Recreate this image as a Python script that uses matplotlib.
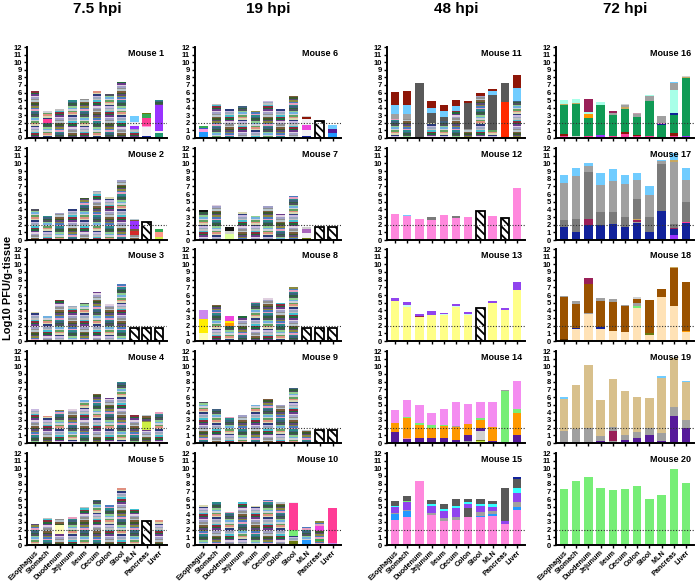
import matplotlib
matplotlib.use("Agg")
import matplotlib.pyplot as plt
import numpy as np

plt.rcParams["font.family"] = ["Liberation Sans", "DejaVu Sans"]
plt.rcParams["hatch.linewidth"] = 1.3

ORGANS = ["Esophagus", "Stomach", "Duodenum", "Jejunum", "Ileum", "Cecum",
          "Colon", "Stool", "MLN", "Pancreas", "Liver"]
TIMEPOINTS = ["7.5 hpi", "19 hpi", "48 hpi", "72 hpi"]
LOD = 2.0

COLORS = {
    "pk": "#ff88dd", "pk2": "#f48cf0", "yl": "#ffff88", "pu": "#9044ee",
    "dp": "#561a9a", "og": "#ff9900", "lg": "#77ee77", "gr": "#a0a0a0",
    "mg": "#7a7a7a", "dg": "#595959", "lgr": "#d0d0d0", "pgr": "#c8a0b0",
    "lb": "#70ccff", "bl": "#2299ff", "bl2": "#4455cc", "cy": "#33ffff",
    "lcy": "#ccffee", "rd": "#8e1608", "red": "#d42a2a", "rr": "#ff2a00",
    "gn": "#109a55", "g2": "#33aa55", "tl": "#1f9a70", "lc": "#a8ffe8",
    "mr": "#9a2058", "nv": "#12229a", "br": "#9a5200", "dbr": "#5a3000",
    "pe": "#ffe2b6", "tn": "#d8c08c", "ta": "#c8a860", "mgn": "#ff3c9a",
    "hp": "#ff3c96", "hp2": "#ee44dd", "pkl": "#ff99dd", "vi": "#9933ff",
    "vi2": "#aa66bb", "lvi": "#cc88ee", "wh": "#f2f0f4", "yg": "#ccee44",
    "lyg": "#ddff99", "lyl": "#ffffbb", "ylw": "#ffee00", "sal": "#ff9988",
    "olv": "#6a7a10", "blk": "#111111",
}

# many small barcode populations -> drawn as a striped texture
STRIPES = ["#9aa8c0", "#3b5a2a", "#d0d0d8", "#6a3a8a", "#2a8a8a", "#c8b8e0",
           "#7a5a3a", "#70b0e0", "#1f6a3a", "#e8a0c0", "#2a3a7a", "#b8c8d0",
           "#90d090", "#8a2a3a", "#4a7ac0", "#d8d8b0", "#909090", "#505060",
           "#40c0d0", "#8a8a40", "#e09080", "#a0a0c8", "#306040", "#c0c0c0",
           "#5a4a7a", "#60a060", "#e0d0e0", "#406080"]
STRIPE_H = 0.2
BAR_W = 0.7

# mice 1-10: total titre per organ (Log10 PFU/g)
stripe_tops = {
    1: [6.25, 3.5, 3.8, 5.0, 5.2, 6.25, 5.75, 7.35, 2.9, 3.3, 4.95],
    2: [4.1, 3.1, 3.5, 4.1, 5.5, 6.4, 5.6, 7.8, 2.75, 2.4, 1.4],
    3: [3.75, 3.2, 5.3, 4.6, 5.0, 6.4, 4.85, 7.4, 1.65, 1.65, 1.65],
    4: [4.45, 3.5, 4.3, 4.5, 5.55, 6.35, 5.85, 8.0, 3.65, 3.65, 4.05],
    5: [2.8, 3.5, 3.4, 3.7, 5.0, 5.85, 5.2, 7.45, 4.7, 3.1, 3.25],
    6: [1.6, 4.45, 3.8, 4.2, 3.6, 4.9, 3.8, 5.5, 2.9, 2.3, 1.7],
    7: [3.9, 4.6, 1.65, 3.7, 3.1, 4.4, 3.4, 5.7, 1.65, 1.65, 1.65],
    8: [4.0, 4.7, 3.25, 3.25, 5.1, 5.6, 5.0, 7.05, 1.65, 1.65, 1.65],
    9: [5.3, 4.45, 3.45, 3.65, 4.95, 5.75, 4.95, 7.15, 1.75, 1.65, 1.65],
    10: [5.2, 5.55, 4.3, 5.55, 5.1, 5.9, 5.6, 5.6, 2.3, 3.1, 4.85],
}
hatched = {2: [9], 3: [8, 9, 10], 5: [9], 6: [9], 7: [9, 10],
           8: [8, 9, 10], 9: [9, 10]}

# dominant barcodes inside mice 1-10 bars: (segment top, colour)
overrides = {
    1: {1: [(2.0, "S"), (2.5, "hp"), (3.5, "S")],
        8: [(1.2, "S"), (1.55, "vi"), (2.1, "wh"), (2.9, "lb")],
        9: [(0.3, "nv"), (1.45, "wh"), (1.6, "pkl"), (2.6, "hp"), (3.2, "g2"), (3.3, "olv")],
        10: [(0.6, "tl"), (0.9, "wh"), (4.3, "vi"), (4.95, "S")]},
    2: {8: [(0.7, "S"), (1.2, "red"), (1.5, "S"), (2.45, "vi"), (2.75, "S")],
        10: [(0.4, "yg"), (1.0, "sal"), (1.4, "g2")]},
    4: {9: [(1.75, "S"), (2.7, "yg"), (3.65, "S")]},
    5: {2: [(1.5, "S"), (2.6, "lyl"), (3.4, "S")]},
    6: {0: [(0.75, "bl"), (1.15, "pkl"), (1.3, "bl2"), (1.6, "g2")],
        8: [(0.3, "nv"), (1.0, "wh"), (1.75, "hp2"), (2.45, "wh"), (2.8, "rd"), (2.9, "lgr")],
        10: [(0.7, "bl"), (1.2, "dp"), (1.7, "lb")]},
    7: {0: [(3.7, "S"), (3.9, "blk")],
        2: [(0.8, "lyg"), (1.2, "lgr"), (1.65, "blk")],
        8: [(0.2, "olv"), (0.9, "wh"), (1.4, "vi2"), (1.65, "lgr")]},
    8: {0: [(1.0, "lyl"), (2.9, "ylw"), (4.0, "lvi")],
        2: [(2.0, "S"), (2.4, "og"), (2.6, "ylw"), (3.25, "hp2")]},
    10: {7: [(0.5, "olv"), (1.2, "S"), (2.0, "lg"), (5.5, "hp"), (5.6, "wh")],
         8: [(0.6, "bl"), (2.3, "S")],
         9: [(0.5, "S"), (0.8, "g2"), (1.8, "S"), (2.5, "hp2"), (3.1, "S")],
         10: [(0.3, "lvi"), (4.85, "hp")]},
}

# mice 11-20: stacked barcode segments (segment top, colour) per organ
mouse11 = [
    [(2.5, "S"), (3.2, "gr"), (4.3, "lb"), (6.1, "rd")],
    [(2.5, "S"), (3.1, "gr"), (4.3, "lb"), (6.2, "rd")],
    [(0.1, "S"), (7.2, "dg"), (7.3, "lgr")],
    [(2.0, "S"), (3.3, "dg"), (4.0, "lb"), (4.85, "rd")],
    [(2.2, "S"), (2.8, "dg"), (3.6, "lb"), (4.4, "rd")],
    [(3.5, "S"), (4.2, "lb"), (5.0, "rd")],
    [(1.2, "S"), (4.6, "dg"), (4.9, "rd")],
    [(5.6, "S"), (5.9, "rd")],
    [(1.1, "S"), (5.7, "dg"), (6.2, "lb"), (6.5, "rd")],
    [(4.8, "rr"), (7.3, "dg")],
    [(4.9, "S"), (6.6, "lb"), (8.25, "rd")],
]
mouse12 = [
    [(3.45, "pk")], [(3.15, "pk"), (3.2, "lb")], [(2.7, "pk")],
    [(2.6, "pk"), (2.95, "mg")], [(3.2, "pk")], [(2.9, "pk"), (3.1, "mg")],
    [(3.05, "pk")], [(3.8, "H")], [(3.1, "pk")], [(2.9, "H")], [(6.75, "pk")],
]
mouse13 = [
    [(5.2, "yl"), (5.55, "pu")],
    [(4.5, "yl"), (4.7, "lcy"), (5.1, "pu")],
    [(3.1, "yl"), (3.25, "mr"), (3.55, "pu")],
    [(3.45, "yl"), (3.85, "pu")],
    [(3.45, "yl"), (3.55, "lcy"), (3.65, "pu")],
    [(4.4, "yl"), (4.6, "lcy"), (4.8, "pu")],
    [(3.35, "yl"), (3.5, "lcy"), (3.75, "pu")],
    [(4.25, "H")],
    [(4.95, "yl"), (5.2, "pu")],
    [(4.05, "yl"), (4.25, "pu")],
    [(6.6, "yl"), (7.65, "pu")],
]
mouse14 = [
    [(1.4, "dp"), (2.6, "og"), (4.35, "pk2")],
    [(0.5, "dp"), (0.6, "sal"), (3.3, "og"), (3.4, "lg"), (5.65, "pk2")],
    [(0.7, "dp"), (2.3, "og"), (2.55, "lg"), (5.0, "pk2")],
    [(0.7, "dp"), (2.0, "og"), (2.3, "lg"), (3.85, "pk2")],
    [(0.7, "dp"), (2.2, "og"), (2.4, "lg"), (4.45, "pk2")],
    [(0.4, "dp"), (2.1, "og"), (2.2, "gr"), (5.4, "pk2")],
    [(0.3, "gr"), (1.0, "dp"), (2.5, "og"), (5.15, "pk2")],
    [(0.25, "yg"), (0.45, "olv"), (1.6, "lgr"), (2.0, "dp"), (3.0, "og"), (3.25, "lg"), (5.3, "pk2")],
    [(0.3, "dp"), (2.15, "og"), (5.4, "pk2")],
    [(6.75, "lg"), (6.9, "gr")],
    [(1.1, "dp"), (3.85, "og"), (4.4, "lg"), (8.1, "pk2")],
]
mouse15 = [
    [(3.2, "pk"), (4.0, "bl"), (4.2, "gr"), (5.0, "pu"), (5.15, "cy"), (5.7, "dg")],
    [(3.7, "pk"), (4.4, "bl"), (4.6, "gr"), (5.55, "pu"), (5.8, "lg"), (6.45, "dg")],
    [(8.3, "pk")],
    [(3.9, "pk"), (4.2, "gr"), (5.15, "pu"), (5.4, "cy"), (5.9, "dg")],
    [(3.1, "pk"), (3.5, "gr"), (4.45, "pu"), (4.65, "cy"), (5.4, "dg")],
    [(3.2, "pk"), (3.7, "gr"), (4.85, "pu"), (5.1, "cy"), (6.05, "dg")],
    [(3.6, "pk"), (4.8, "dg"), (5.4, "pu"), (5.55, "cy"), (5.95, "dg")],
    [(3.6, "pk"), (3.8, "bl"), (4.3, "gr"), (5.05, "pu"), (5.3, "cy"), (5.95, "dg")],
    [(3.8, "pk"), (4.0, "bl"), (4.4, "gr"), (5.0, "pu"), (5.3, "cy"), (5.8, "dg")],
    [(2.7, "pk"), (3.1, "pu"), (7.5, "dg")],
    [(4.6, "pk"), (4.9, "bl"), (5.6, "gr"), (6.8, "pu"), (7.4, "cy"), (8.6, "dg"), (8.85, "nv")],
]
mouse16 = [
    [(0.2, "mgn"), (0.55, "rd"), (4.3, "gn"), (4.45, "ta"), (5.05, "lc")],
    [(0.3, "lgr"), (4.5, "gn"), (4.6, "ta"), (5.2, "lc")],
    [(0.2, "mgn"), (2.65, "gn"), (3.15, "og"), (3.45, "lc"), (5.1, "mr")],
    [(0.4, "vi"), (4.3, "gn"), (4.8, "lc")],
    [(0.3, "mgn"), (3.0, "gn"), (3.3, "gr"), (3.5, "mr")],
    [(0.5, "mgn"), (0.8, "rd"), (3.8, "gn"), (4.1, "ta"), (4.3, "gr"), (4.5, "lgr")],
    [(0.2, "mgn"), (0.4, "rd"), (2.8, "gn"), (3.1, "gr"), (3.3, "pgr")],
    [(0.3, "mgn"), (4.9, "gn"), (5.5, "gr"), (5.65, "lc")],
    [(0.1, "vi"), (1.7, "gn"), (1.85, "nv"), (2.0, "pk"), (2.95, "gr")],
    [(0.3, "mgn"), (0.6, "rd"), (3.0, "gn"), (3.25, "nv"), (6.3, "lc"), (7.2, "gr"), (7.4, "lb")],
    [(0.3, "vi"), (7.95, "gn"), (8.1, "ta"), (8.2, "lgr")],
]
mouse17 = [
    [(1.7, "nv"), (2.6, "mg"), (7.45, "gr"), (8.5, "lb")],
    [(1.1, "nv"), (2.75, "mg"), (8.35, "gr"), (9.35, "lb")],
    [(1.9, "nv"), (2.8, "mr"), (8.85, "mg"), (9.65, "gr"), (10.0, "lb")],
    [(2.0, "nv"), (3.6, "mg"), (7.2, "gr"), (8.8, "lb")],
    [(2.1, "nv"), (3.65, "mg"), (7.7, "gr"), (9.3, "lb")],
    [(1.7, "nv"), (3.0, "mg"), (7.35, "gr"), (8.5, "lb")],
    [(2.2, "nv"), (2.4, "gr"), (2.6, "mr"), (2.7, "ta"), (5.3, "mg"), (7.8, "gr"), (8.8, "lb")],
    [(1.1, "nv"), (3.0, "mg"), (5.9, "gr"), (7.05, "lb")],
    [(3.75, "nv"), (9.85, "mg"), (10.35, "gr"), (10.45, "lb")],
    [(0.7, "vi"), (1.4, "nv"), (1.6, "mr"), (2.1, "mg"), (10.2, "gr"), (10.4, "ta"), (11.4, "lb")],
    [(2.2, "nv"), (2.4, "mgn"), (4.9, "mg"), (7.8, "gr"), (9.45, "lb")],
]
mouse18 = [
    [(0.2, "dbr"), (5.75, "br"), (5.9, "gr")],
    [(1.6, "pe"), (1.75, "nv"), (4.85, "br"), (5.25, "gr")],
    [(3.5, "pe"), (3.6, "gr"), (7.4, "br"), (8.2, "mr")],
    [(1.6, "pe"), (1.8, "nv"), (5.25, "br"), (5.6, "gr")],
    [(1.3, "pe"), (5.05, "br"), (5.45, "gr")],
    [(1.15, "pe"), (4.6, "br"), (4.75, "gr")],
    [(4.35, "pe"), (4.55, "lg"), (4.9, "gr"), (5.5, "br"), (5.8, "lgr")],
    [(0.75, "pe"), (1.05, "olv"), (5.3, "br"), (5.35, "gr")],
    [(5.8, "pe"), (6.75, "br")],
    [(4.55, "pe"), (9.55, "br"), (9.65, "ta")],
    [(1.2, "pe"), (1.35, "og"), (7.75, "br")],
]
mouse19 = [
    [(0.15, "dp"), (1.6, "gr"), (5.8, "tn"), (6.05, "lb")],
    [(1.8, "gr"), (7.6, "tn")],
    [(2.0, "gr"), (10.15, "tn")],
    [(0.3, "dp"), (0.95, "gr"), (5.65, "tn")],
    [(0.2, "gr"), (1.6, "mr"), (2.05, "gr"), (8.3, "tn")],
    [(0.4, "dp"), (1.1, "gr"), (6.8, "tn")],
    [(0.6, "dp"), (1.5, "gr"), (5.95, "tn")],
    [(0.1, "lb"), (1.1, "dp"), (2.0, "gr"), (5.85, "tn"), (5.9, "lb")],
    [(0.3, "dp"), (1.25, "gr"), (8.45, "tn"), (8.8, "lb")],
    [(0.1, "lb"), (3.5, "dp"), (4.75, "gr"), (11.15, "tn")],
    [(1.9, "dp"), (2.95, "gr"), (7.95, "tn"), (8.1, "lb")],
]
mouse20_tops = [7.25, 8.3, 8.9, 7.4, 7.15, 7.25, 7.75, 5.95, 6.5, 9.85, 8.15]

mice = {}
for m, tops in stripe_tops.items():
    bars = []
    for i, top in enumerate(tops):
        if i in overrides.get(m, {}):
            bars.append(overrides[m][i])
        elif i in hatched.get(m, []):
            bars.append([(top, "H")])
        else:
            bars.append([(top, "S")])
    mice[m] = bars
mice.update({11: mouse11, 12: mouse12, 13: mouse13, 14: mouse14, 15: mouse15,
             16: mouse16, 17: mouse17, 18: mouse18, 19: mouse19,
             20: [[(v, "lg")] for v in mouse20_tops]})


def draw_bar(ax, x, segs, seed):
    bottom = 0.0
    for top, key in segs:
        if key == "S":
            edges = np.arange(bottom, top - 1e-6, STRIPE_H)
            hs = np.minimum(edges + STRIPE_H, top) - edges
            cols = [STRIPES[(seed + k * 5) % len(STRIPES)] for k in range(len(edges))]
            ax.bar(np.full(len(edges), x), hs, bottom=edges, width=BAR_W,
                   color=cols, linewidth=0, zorder=2)
        elif key == "H":
            ax.bar(x, top - bottom, bottom=bottom, width=BAR_W, color="white",
                   edgecolor="black", hatch="\\\\\\\\", linewidth=1.3, zorder=2)
        else:
            ax.bar(x, top - bottom, bottom=bottom, width=BAR_W,
                   color=COLORS[key], linewidth=0, zorder=2)
        bottom = top


W, H = 696, 583
fig = plt.figure(figsize=(W / 100, H / 100), dpi=100)

col_px = [(27, 167), (195, 341), (387, 525), (556, 694)]
row_px = [(47, 138), (148, 240), (249, 341), (351, 443), (453, 545)]

for c, (l, r) in enumerate(col_px):
    fig.text((l + r) / 2 / W, 1 - 9 / H, TIMEPOINTS[c], ha="center", va="center",
             fontsize=11, fontweight="bold")
    for rw, (t, b) in enumerate(row_px):
        m = c * 5 + rw + 1
        ax = fig.add_axes([l / W, 1 - b / H, (r - l) / W, (b - t) / H])
        for i, segs in enumerate(mice[m]):
            draw_bar(ax, i, segs, seed=i * 7 + m * 3)
        ax.axhline(LOD, color="#333333", ls=(0, (1, 1.5)), lw=0.8, zorder=3)
        ax.set_xlim(-0.65, 10.65)
        ax.set_ylim(0, 12)
        ax.set_yticks(range(13))
        ax.set_xticks(range(len(ORGANS)))
        for s in ("top", "right"):
            ax.spines[s].set_visible(False)
        for s in ("left", "bottom"):
            ax.spines[s].set_linewidth(1.4)
        ax.tick_params(axis="y", length=2.5, width=1, pad=1, labelsize=5.5)
        ax.tick_params(axis="x", length=2.5, width=1, pad=0.5)
        for lab in ax.get_yticklabels():
            lab.set_fontweight("bold")
        if rw == 4:
            ax.set_xticklabels(ORGANS, rotation=45, ha="right",
                               rotation_mode="anchor", fontsize=5.2, fontweight="bold")
        else:
            ax.set_xticklabels([])
        ax.text(0.98, 0.93, f"Mouse {m}", transform=ax.transAxes, ha="right",
                va="center", fontsize=6.5, fontweight="bold")

fig.text(8 / W, 1 - 288 / H, "Log10 PFU/g-tissue", rotation=90, ha="center",
         va="center", fontsize=8, fontweight="bold")

fig.savefig("out.png", dpi=100)
